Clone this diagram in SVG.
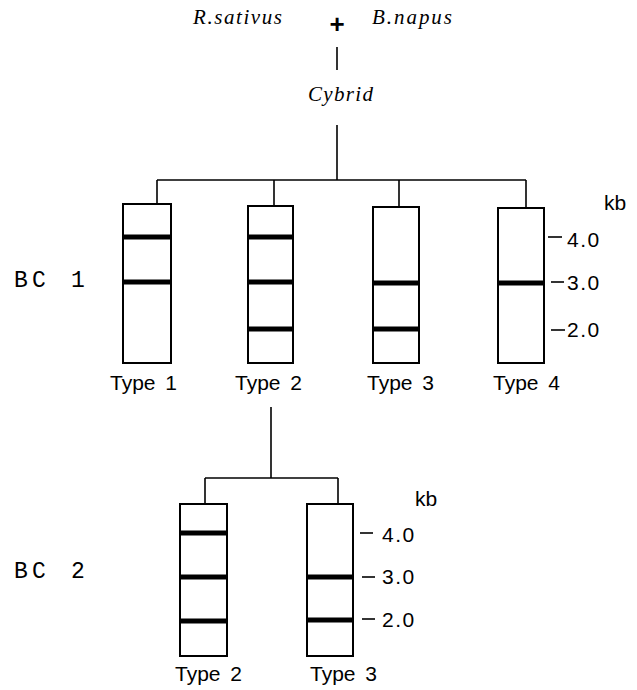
<svg xmlns="http://www.w3.org/2000/svg" width="637" height="690" viewBox="0 0 637 690">
  <style>
    .sp { font-family: "Liberation Serif", "Times New Roman", serif; font-style: italic; font-size: 21px; fill: #000; }
    .bc { font-family: "Liberation Mono", "Courier New", monospace; font-size: 23px; fill: #000; }
    .lbl { font-family: "Liberation Sans", Arial, sans-serif; font-size: 21px; fill: #000; word-spacing: 4px; }
    .num { font-family: "Liberation Sans", Arial, sans-serif; font-size: 21px; fill: #000; letter-spacing: 1.5px; }
    .lane { fill: #fff; stroke: #000; stroke-width: 2; }
    .band { stroke: #000; stroke-width: 5; }
    .tick { stroke: #000; stroke-width: 1.6; }
    .conn line { stroke: #000; stroke-width: 1.6; fill: none; }
  </style>

  <rect width="637" height="690" fill="#fff"/>

  <!-- parental cross -->
  <g id="parents">
    <text class="sp" x="193" y="24" textLength="89" lengthAdjust="spacing">R.sativus</text>
    <text x="337" y="33" text-anchor="middle" font-family="Liberation Sans, Arial, sans-serif" font-weight="bold" font-size="26">+</text>
    <text class="sp" x="372" y="24" textLength="80" lengthAdjust="spacing">B.napus</text>
  </g>
  <g id="cybrid">
    <text class="sp" x="308" y="101" textLength="65" lengthAdjust="spacing">Cybrid</text>
  </g>

  <!-- connectors -->
  <g id="connectors" class="conn">
    <line x1="337" y1="47" x2="337" y2="70"/>
    <line x1="337" y1="125" x2="337" y2="180"/>
    <line x1="157" y1="180" x2="526" y2="180"/>
    <line x1="157" y1="180" x2="157" y2="204"/>
    <line x1="274" y1="180" x2="274" y2="206"/>
    <line x1="399" y1="180" x2="399" y2="207"/>
    <line x1="526" y1="180" x2="526" y2="208"/>
    <line x1="271" y1="407" x2="271" y2="478"/>
    <line x1="205" y1="478" x2="338" y2="478"/>
    <line x1="205" y1="478" x2="205" y2="504"/>
    <line x1="338" y1="478" x2="338" y2="504"/>
  </g>

  <!-- BC 1 generation -->
  <g id="bc1-label">
    <text class="bc" x="14" y="287"><tspan>B</tspan><tspan x="32">C</tspan><tspan x="71">1</tspan></text>
  </g>

  <g id="bc1-type1">
    <rect class="lane" x="123" y="204" width="48" height="159"/>
    <line class="band" x1="123" y1="237" x2="171" y2="237"/>
    <line class="band" x1="123" y1="282" x2="171" y2="282"/>
    <text class="lbl" x="110" y="390">Type 1</text>
  </g>
  <g id="bc1-type2">
    <rect class="lane" x="248" y="206" width="45" height="157"/>
    <line class="band" x1="248" y1="237" x2="293" y2="237"/>
    <line class="band" x1="248" y1="282" x2="293" y2="282"/>
    <line class="band" x1="248" y1="329" x2="293" y2="329"/>
    <text class="lbl" x="235" y="390">Type 2</text>
  </g>
  <g id="bc1-type3">
    <rect class="lane" x="373" y="207" width="46" height="156"/>
    <line class="band" x1="373" y1="283" x2="419" y2="283"/>
    <line class="band" x1="373" y1="329" x2="419" y2="329"/>
    <text class="lbl" x="367" y="390">Type 3</text>
  </g>
  <g id="bc1-type4">
    <rect class="lane" x="498" y="208" width="46" height="155"/>
    <line class="band" x1="498" y1="283" x2="544" y2="283"/>
    <text class="lbl" x="493" y="390">Type 4</text>
  </g>

  <g id="bc1-scale">
    <text class="lbl" x="604" y="210">kb</text>
    <line class="tick" x1="548" y1="237" x2="562" y2="237"/>
    <line class="tick" x1="551" y1="282" x2="564" y2="282"/>
    <line class="tick" x1="551" y1="330" x2="565" y2="330"/>
    <text class="num" x="567" y="247">4.0</text>
    <text class="num" x="567" y="290">3.0</text>
    <text class="num" x="567" y="337">2.0</text>
  </g>

  <!-- BC 2 generation -->
  <g id="bc2-label">
    <text class="bc" x="14" y="578"><tspan>B</tspan><tspan x="32">C</tspan><tspan x="71">2</tspan></text>
  </g>

  <g id="bc2-type2">
    <rect class="lane" x="180" y="504" width="47" height="152"/>
    <line class="band" x1="180" y1="533" x2="227" y2="533"/>
    <line class="band" x1="180" y1="577" x2="227" y2="577"/>
    <line class="band" x1="180" y1="621" x2="227" y2="621"/>
    <text class="lbl" x="175" y="681">Type 2</text>
  </g>
  <g id="bc2-type3">
    <rect class="lane" x="307" y="504" width="46" height="152"/>
    <line class="band" x1="307" y1="577" x2="353" y2="577"/>
    <line class="band" x1="307" y1="620" x2="353" y2="620"/>
    <text class="lbl" x="310" y="681">Type 3</text>
  </g>

  <g id="bc2-scale">
    <text class="lbl" x="415" y="506">kb</text>
    <line class="tick" x1="360" y1="533" x2="373" y2="533"/>
    <line class="tick" x1="362" y1="577" x2="375" y2="577"/>
    <line class="tick" x1="362" y1="619" x2="375" y2="619"/>
    <text class="num" x="382" y="542">4.0</text>
    <text class="num" x="382" y="584">3.0</text>
    <text class="num" x="382" y="627">2.0</text>
  </g>
</svg>
